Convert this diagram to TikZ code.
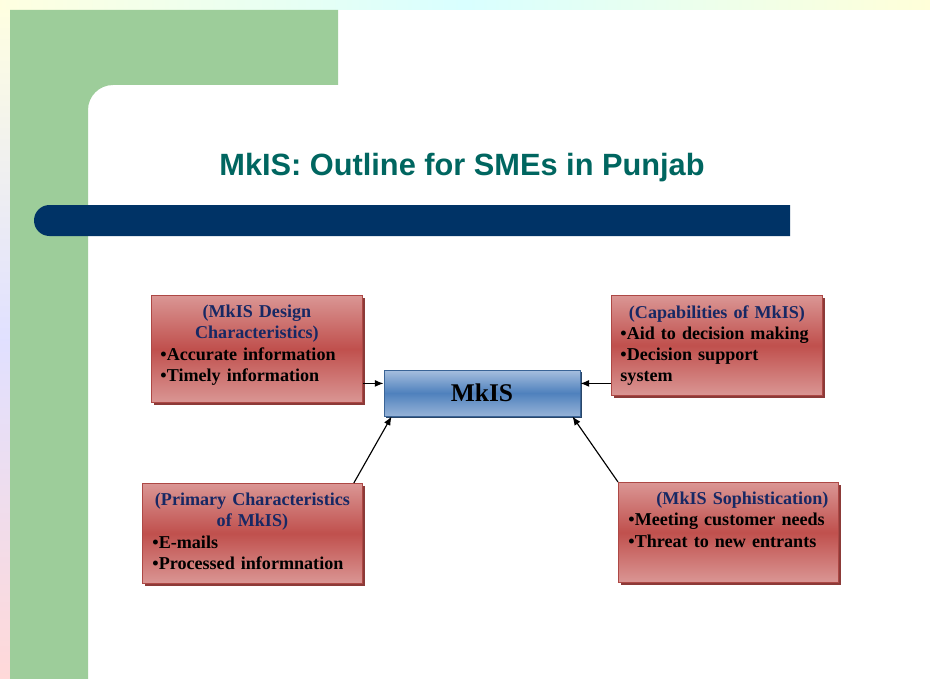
\documentclass[tikz,border=0pt]{standalone}
\usepackage{fontspec}
\setmainfont{Liberation Serif}
\newfontfamily\titlefont{Liberation Sans}
\usepackage{tikz}
\usetikzlibrary{arrows.meta,positioning,shadows,calc}

\definecolor{slidegreen}{RGB}{157,205,154}
\definecolor{barnavy}{RGB}{0,51,102}
\definecolor{titleteal}{RGB}{0,102,96}
\definecolor{headblue}{RGB}{23,40,100}
\definecolor{redlight}{RGB}{218,150,148}
\definecolor{redmid}{RGB}{192,80,77}
\definecolor{redshadow}{RGB}{140,58,56}
\definecolor{bluelight}{RGB}{167,191,222}
\definecolor{bluemid}{RGB}{79,129,189}
\definecolor{blueedge}{RGB}{58,100,150}

\begin{document}
\begin{tikzpicture}[x=0.02cm, y=-0.02cm,
    every node/.style={font=\bfseries\fontsize{10.3}{12}\selectfont},
    redbox/.style={draw=redmid!90!black, line width=0.5pt, inner sep=0pt,
      top color=redlight, bottom color=redlight, middle color=redmid,
      drop shadow={shadow xshift=1.6pt, shadow yshift=-1.6pt, fill=redshadow, opacity=1}},
    boxtext/.style={inner sep=0pt, anchor=north},
    flow/.style={-{Latex[length=5pt,width=4pt]}, line width=0.65pt}]
  \useasboundingbox (0,0) rectangle (930,679);

  % slide background
  \fill[white] (0,0) rectangle (930,679);
  \shade[top color=yellow!12, bottom color=red!15, middle color=blue!12] (0,0) rectangle (10,679);
  \shade[left color=yellow!12, right color=yellow!15, middle color=cyan!15] (0,0) rectangle (930,10);
  \fill[slidegreen] (10,10) -- (338,10) -- (338,85) -- (113,85)
    arc[start angle=270, end angle=180, radius=25] -- (88,679) -- (10,679) -- cycle;
  \fill[barnavy] (49.5,205) -- (790,205) -- (790,236) -- (49.5,236)
    arc[start angle=90, end angle=270, radius=15.5] -- cycle;

  \node[font=\titlefont\bfseries\fontsize{17.5}{20}\selectfont, text=titleteal] (title) at (462,168)
    {MkIS: Outline for SMEs in Punjab};

  % centre box
  \node[draw=blueedge, line width=0.5pt, inner sep=0pt, minimum width=3.92cm, minimum height=0.92cm,
    top color=bluelight, bottom color=bluelight!80!bluemid, middle color=bluemid,
    drop shadow={shadow xshift=1.4pt, shadow yshift=-1.4pt, fill=blueedge!70!black, opacity=1},
    font=\bfseries\fontsize{14.5}{16}\selectfont] (mkis) at (482,393) {MkIS};

  % outer boxes
  \node[redbox, minimum width=4.22cm, minimum height=2.14cm, anchor=north west] (design) at (151,295) {};
  \node[boxtext, text width=3.86cm] (designtxt) at ([yshift=-0.2cm]design.north)
    {{\centering\color{headblue}(MkIS Design\\Characteristics)\par}\raggedright
     •Accurate information\\•Timely information};

  \node[redbox, minimum width=4.22cm, minimum height=2.0cm, anchor=north west] (capab) at (611,295) {};
  \node[boxtext, text width=3.86cm] (capabtxt) at ([yshift=-0.2cm]capab.north)
    {{\centering\color{headblue}(Capabilities of MkIS)\par}\raggedright
     •Aid to decision making\\•Decision support\\system};

  \node[redbox, minimum width=4.4cm, minimum height=2.0cm, anchor=north west] (primary) at (142,483) {};
  \node[boxtext, text width=4.0cm] (primarytxt) at ([yshift=-0.2cm]primary.north)
    {{\centering\color{headblue}(Primary Characteristics\\of MkIS)\par}\raggedright
     •E-mails\\•Processed informnation};

  \node[redbox, minimum width=4.4cm, minimum height=2.0cm, anchor=north west] (soph) at (618,482) {};
  \node[boxtext, text width=4.0cm] (sophtxt) at ([yshift=-0.2cm]soph.north)
    {{\raggedleft\color{headblue}(MkIS Sophistication)\par}\raggedright
     •Meeting customer needs\\•Threat to new entrants};

  % connectors
  \coordinate (dfrom) at ([yshift=-0.69cm]design.east);
  \coordinate (cfrom) at ([yshift=-0.76cm]capab.west);
  \draw[flow] (dfrom) -- (dfrom -| mkis.west);
  \draw[flow] (cfrom) -- (cfrom -| mkis.east);
  \draw[flow] ([xshift=-0.18cm]primary.north east) -- ([xshift=0.16cm]mkis.south west);
  \draw[flow] (soph.north west) -- ([xshift=-0.16cm]mkis.south east);
\end{tikzpicture}
\end{document}
